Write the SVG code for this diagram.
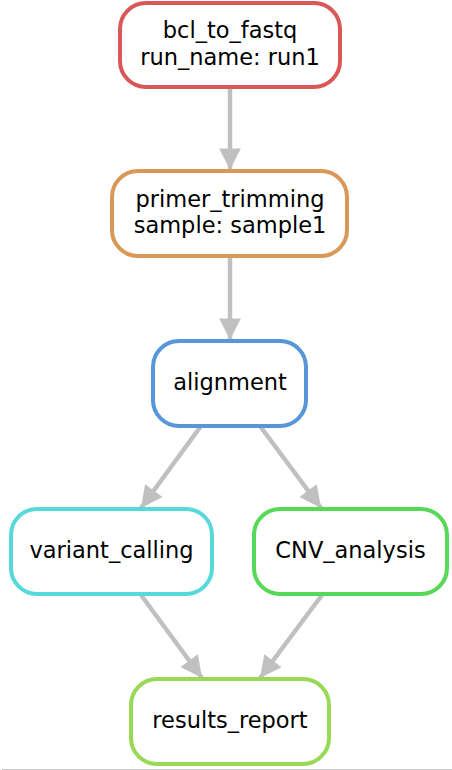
<svg xmlns="http://www.w3.org/2000/svg" width="452" height="770" viewBox="0 0 452 770">
<style>
.node rect{fill:#ffffff;stroke-width:4}
.node text{font-family:"DejaVu Sans","Liberation Sans",sans-serif;font-size:22.5px;fill:#000;text-anchor:middle}
.edge{stroke:#c0c0c0;stroke-width:4.5;fill:none}
</style>
<defs>
<marker id="arr" viewBox="0 0 10 10" refX="10" refY="5" markerWidth="5.6" markerHeight="4.8" markerUnits="strokeWidth" orient="auto">
<path d="M0,0 L10,5 L0,10 z" fill="#c0c0c0"/>
</marker>
</defs>
<rect width="452" height="770" fill="#ffffff"/>
<g id="edges">
<line class="edge" x1="230" y1="87" x2="230" y2="170" marker-end="url(#arr)"/>
<line class="edge" x1="230" y1="257" x2="230" y2="340" marker-end="url(#arr)"/>
<line class="edge" x1="201" y1="426" x2="141" y2="508" marker-end="url(#arr)"/>
<line class="edge" x1="260" y1="426" x2="321" y2="508" marker-end="url(#arr)"/>
<line class="edge" x1="141" y1="595" x2="202" y2="678" marker-end="url(#arr)"/>
<line class="edge" x1="322" y1="595" x2="260" y2="678" marker-end="url(#arr)"/>
</g>
<g id="bcl_to_fastq" class="node">
<rect x="120" y="3" width="220" height="84" rx="26" stroke="#d95757"/>
<text x="230" y="37.5">bcl_to_fastq</text>
<text x="230" y="64.5">run_name: run1</text>
</g>
<g id="primer_trimming" class="node">
<rect x="112" y="171" width="235" height="85" rx="26" stroke="#d99857"/>
<text x="230" y="206.5">primer_trimming</text>
<text x="230" y="232.5">sample: sample1</text>
</g>
<g id="alignment" class="node">
<rect x="153" y="341" width="153" height="85" rx="26" stroke="#5796d9"/>
<text x="230" y="390">alignment</text>
</g>
<g id="variant_calling" class="node">
<rect x="11" y="509" width="201" height="85" rx="26" stroke="#57d9d9"/>
<text x="111.5" y="558">variant_calling</text>
</g>
<g id="CNV_analysis" class="node">
<rect x="254" y="509" width="193" height="85" rx="26" stroke="#57d957"/>
<text x="350.5" y="558">CNV_analysis</text>
</g>
<g id="results_report" class="node">
<rect x="131" y="679" width="198" height="85" rx="26" stroke="#98d957"/>
<text x="230" y="727.5">results_report</text>
</g>
<line x1="2" y1="769.5" x2="452" y2="769.5" stroke="#c8c8c8" stroke-width="1"/>
</svg>
